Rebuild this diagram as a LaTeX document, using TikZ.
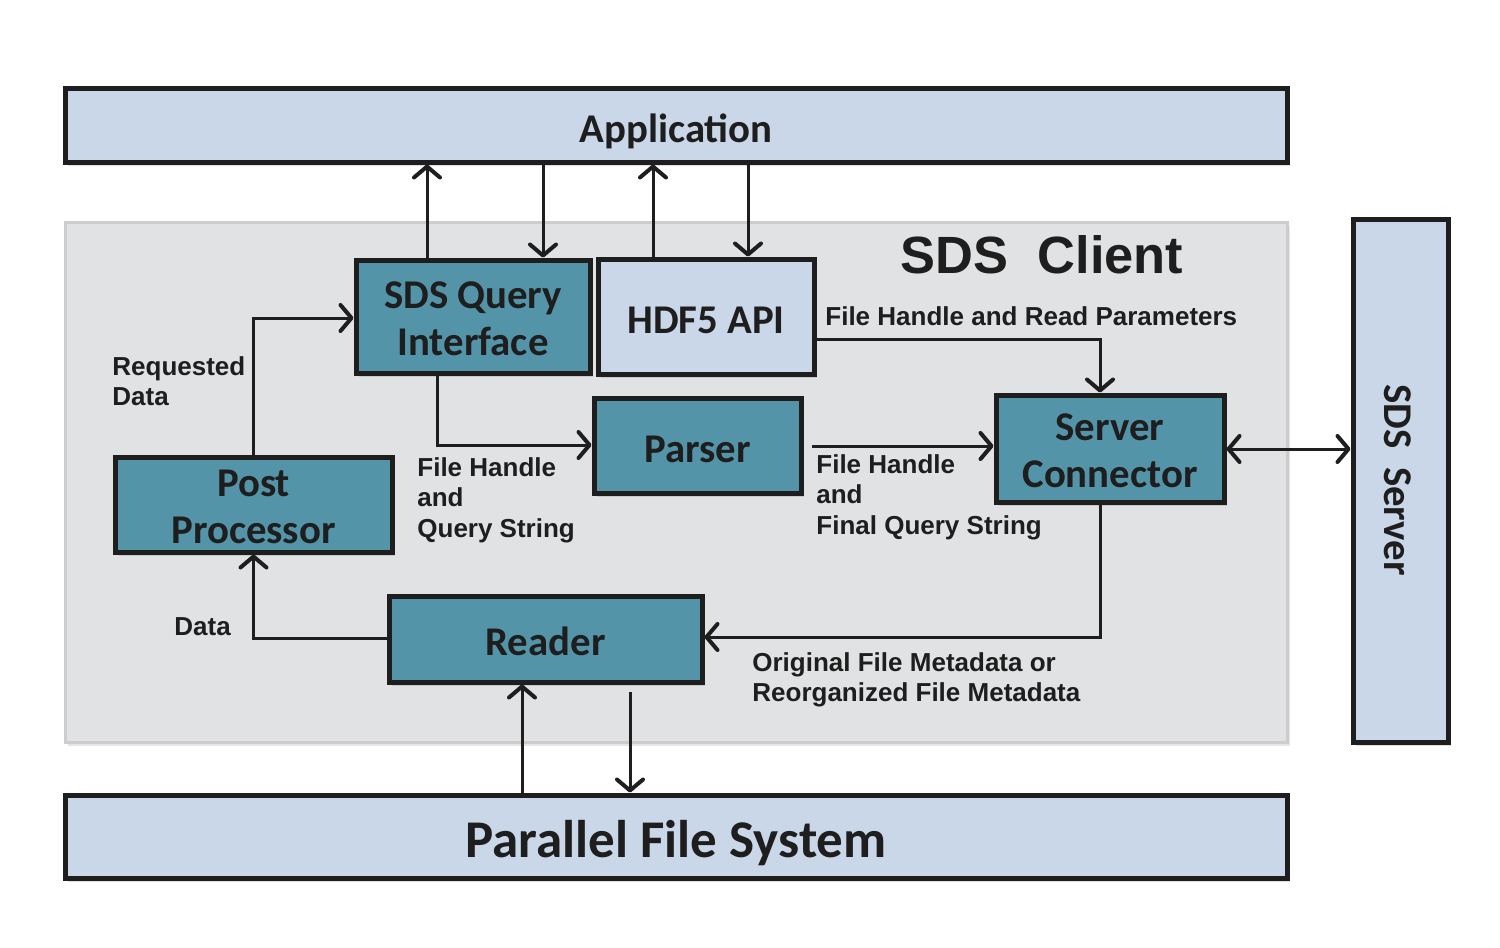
\documentclass[tikz,border=0pt]{standalone}
\usepackage{fontspec}
\setmainfont{Liberation Sans}
\newfontfamily\boxfont{Carlito}
\usetikzlibrary{arrows.meta,shadows}
\definecolor{teal1}{HTML}{5494A9}
\definecolor{lblue}{HTML}{CAD7E8}
\definecolor{bggray}{HTML}{E1E2E4}
\definecolor{bgline}{HTML}{CDCDCF}
\definecolor{ink}{HTML}{1E1E1E}
\newcommand\oneline[2][16.6pt]{\raisebox{0pt}[#1][0pt]{#2}}
\newcommand\twoline[2][38.6pt]{\raisebox{0pt}[#1][0pt]{\begin{tabular}[b]{@{}c@{}}#2\end{tabular}}}
\tikzset{
  blk/.style={draw=ink, line width=2.5pt, minimum width=#1, inner sep=0pt,
    font=\boxfont\bfseries\fontsize{20.4}{23.5}\selectfont, text=ink, align=center,
    drop shadow={shadow xshift=1.5pt, shadow yshift=-2pt, opacity=0.25}},
  tealbox/.style={blk=#1, fill=teal1},
  bluebox/.style={blk=#1, fill=lblue},
  arr/.style={draw=ink, line width=1.5pt, -{Straight Barb[length=5.5pt,width=13pt,line width=2pt,round]}},
  darr/.style={draw=ink, line width=1.5pt, {Straight Barb[length=5.5pt,width=13pt,line width=2pt,round]}-{Straight Barb[length=5.5pt,width=13pt,line width=2pt,round]}},
  lbl/.style={font=\bfseries\fontsize{13}{15.3}\selectfont, text=ink, align=left, inner sep=0pt, anchor=north west}
}
\begin{document}
\begin{tikzpicture}[x=0.5pt,y=-0.5pt]
\useasboundingbox (0,0) rectangle (1500,948);
\fill[white] (0,0) rectangle (1500,948);
% SDS client background
\node[fill=bggray, draw=bgline, line width=1.5pt, minimum width=611pt, minimum height=260pt,
  drop shadow={shadow xshift=1.5pt, shadow yshift=-2pt, opacity=0.2}] (client) at (676,482) {};
\node[font=\bfseries\fontsize{26.2}{30}\selectfont, text=ink] (clientlbl) at (1042,255) {SDS\ \ Client};
% boxes
\node[bluebox=611pt, minimum height=37pt] (app) at (676,125) {\oneline[17pt]{Application}};
\node[bluebox=611pt, minimum height=41.5pt, font=\boxfont\bfseries\fontsize{26.5}{30}\selectfont] (pfs) at (676,836.5) {\oneline[20.6pt]{Parallel File System}};
\node[bluebox=47.5pt, minimum height=261.5pt] (server) at (1400.5,480.5) {};
\node[rotate=-90, font=\boxfont\bfseries\fontsize{20.4}{23}\selectfont, text=ink] (serverlbl) at (1398,480) {SDS\ \ Server};
\node[tealbox=117pt, minimum height=56.5pt] (sqi) at (473,316.5) {\twoline{SDS Query\\Interface}};
\node[bluebox=108pt, minimum height=57.5pt] (hdf) at (706,316.5) {\oneline{HDF5 API}};
\node[tealbox=138.5pt, minimum height=47.5pt] (post) at (253.5,504.5) {\twoline{Post\\Processor}};
\node[tealbox=103.5pt, minimum height=47.5pt] (parser) at (697.5,445.5) {\oneline{Parser}};
\node[tealbox=114pt, minimum height=53.5pt] (sc) at (1110,448.5) {\twoline{Server\\Connector}};
\node[tealbox=156.5pt, minimum height=43pt] (reader) at (545.5,639) {\oneline{Reader}};
% connectors to application
\draw[arr] (427,0 |- sqi.north) -- (427,0 |- app.south);
\draw[arr] (543,0 |- app.south) -- (543,0 |- sqi.north);
\draw[arr] (653,0 |- hdf.north) -- (653,0 |- app.south);
\draw[arr] (748,0 |- app.south) -- (748,0 |- hdf.north);
% internal connectors
\draw[arr] (post.north) |- (sqi.west |- 0,318);
\draw[arr] (437,0 |- sqi.south) |- (parser.west |- 0,445);
\draw[arr] (812,446) coordinate (pstart) -- (sc.west |- 0,446);
\draw[arr] (hdf.east |- 0,339) -| (1100,0 |- sc.north);
\draw[darr] (sc.east |- 0,449) -- (server.west |- 0,449);
\draw[arr] (1100,0 |- sc.south) |- (reader.east |- 0,637);
\draw[arr] (reader.west |- 0,638) -| (post.south);
\draw[arr] (522,0 |- pfs.north) -- (522,0 |- reader.south);
\draw[arr] (630,692) coordinate (dstart) -- (630,0 |- pfs.north);
% labels
\node[lbl] (l1) at (112,356) {Requested\\Data};
\node[lbl] (l2) at (417,457) {File Handle\\and\\Query String};
\node[lbl] (l3) at (816,454) {File Handle\\and\\Final Query String};
\node[lbl] (l4) at (825,306) {File Handle and Read Parameters};
\node[lbl] (l5) at (174,617) {Data};
\node[lbl] (l6) at (752,652) {Original File Metadata or\\Reorganized File Metadata};
\end{tikzpicture}
\end{document}
